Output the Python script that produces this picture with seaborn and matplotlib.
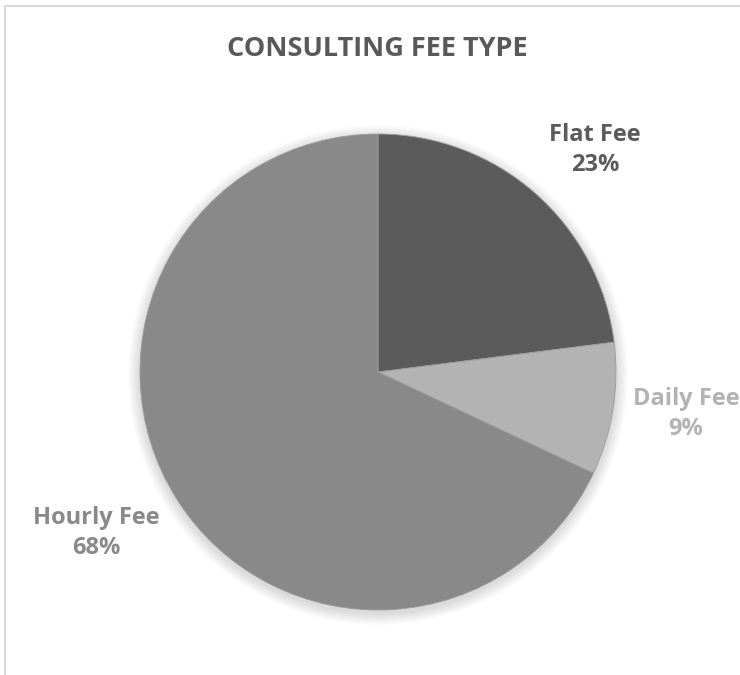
import matplotlib
matplotlib.use("Agg")
import matplotlib.pyplot as plt
import seaborn as sns
import numpy as np
from matplotlib.patches import Rectangle, Circle

categories = ["Flat Fee", "Daily Fee", "Hourly Fee"]
shares = [23, 9, 68]
pct_labels = ["23%", "9%", "68%"]
title = "CONSULTING FEE TYPE"

colors = ["#5b5b5b", "#b3b3b3", "#898989"]
label_pos = [(217, 222), (308, -42), (-282, -161)]  # layout offsets (px from centre)

sns.set_theme(style="white")
plt.rcParams["font.family"] = ["Open Sans", "DejaVu Sans"]

W, H = 740, 675
fig = plt.figure(figsize=(W / 100, H / 100), dpi=100)
fig.patch.set_facecolor("white")

# outer chart border (top and left visible)
fig.add_artist(Rectangle((4.5 / W, -0.1), 1.2, 1 - 5.5 / H + 0.1, transform=fig.transFigure,
                         fill=False, edgecolor="#d9d9d9", linewidth=1.5))

cx, cy, half = 378, 372, 330
ax = fig.add_axes([(cx - half) / W, (H - cy - half) / H, 2 * half / W, 2 * half / H])

R = 238
# soft shadow
for i in range(12):
    ax.add_patch(Circle((0, -3), R + 12 - i, facecolor="black", alpha=0.012, edgecolor="none", zorder=0))

wedges, _ = ax.pie(shares, colors=colors, radius=R, startangle=90, counterclock=False,
                   wedgeprops=dict(linewidth=0.6, edgecolor="#9a9a9a"), center=(0, 0), frame=True)
ax.set_xlim(-half, half)
ax.set_ylim(-half, half)
ax.set_aspect("equal")
ax.axis("off")

for cat, pct, col, (lx, ly) in zip(categories, pct_labels, colors, label_pos):
    ax.text(lx, ly, f"{cat}\n{pct}", ha="center", va="center", fontsize=17,
            fontweight="bold", color=col, linespacing=1.3)

fig.text(377 / W, 1 - 49 / H, title, ha="center", va="center", fontsize=19.5,
         fontweight="bold", color="#595959")

fig.savefig("out.png", dpi=100)
